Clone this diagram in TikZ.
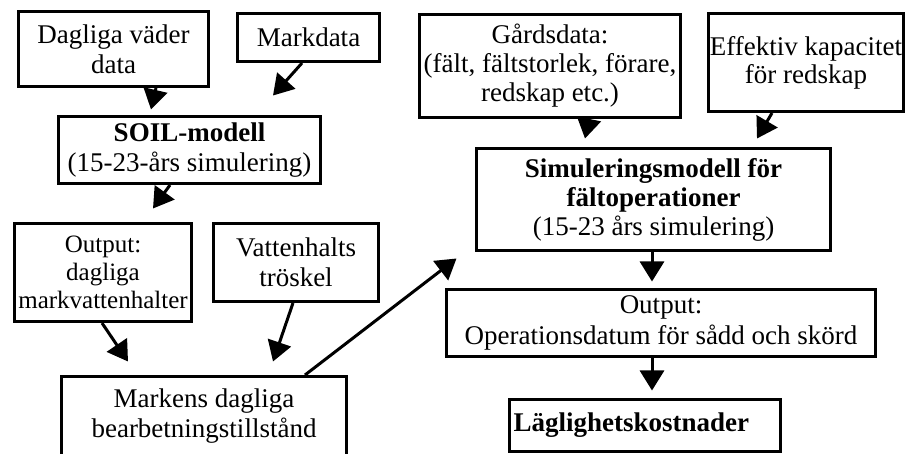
\documentclass[tikz,border=0pt]{standalone}
\usepackage{fontspec}
\setmainfont{Liberation Serif}
\usetikzlibrary{arrows.meta}
\begin{document}
\begin{tikzpicture}[x=1pt,y=-1pt,
  box/.style={draw, line width=3pt, inner sep=0pt, align=center, font=\fontsize{27}{30}\selectfont},
  arr/.style={line width=3pt, -{Triangle[length=20pt,width=24pt]}}]
\useasboundingbox (0,0) rectangle (919,454);
\node[box, minimum width=190pt, minimum height=75pt] (dag) at (113.5,49) {Dagliga väder\\data};
\node[box, minimum width=142pt, minimum height=48pt] (mark) at (308.5,37.5) {Markdata};
\node[box, minimum width=262pt, minimum height=67pt] (soil) at (189.5,150) {\textbf{SOIL-modell}\\(15-23-års simulering)};
\node[box, minimum width=177pt, minimum height=98pt, font=\fontsize{25}{28}\selectfont] (out1) at (103,272.5) {Output:\\dagliga\\markvattenhalter};
\node[box, minimum width=165pt, minimum height=78pt] (vatt) at (296,262.5) {Vattenhalts\\tröskel};
\node[box, minimum width=285pt, minimum height=80pt] (markens) at (204,416.5) {Markens dagliga\\bearbetningstillstånd};
\node[box, minimum width=261pt, minimum height=103pt, font=\fontsize{27}{29}\selectfont] (gard) at (550,66) {Gårdsdata:\\(fält, fältstorlek, förare,\\redskap etc.)};
\node[box, minimum width=195pt, minimum height=98pt, font=\fontsize{27}{28}\selectfont] (eff) at (806,62.5) {Effektiv kapacitet\\för redskap};
\node[box, minimum width=354pt, minimum height=102pt, font=\fontsize{27}{29}\selectfont] (sim) at (653.5,199.5) {\textbf{Simuleringsmodell för}\\\textbf{fältoperationer}\\(15-23 års simulering)};
\node[box, minimum width=429pt, minimum height=67pt, font=\fontsize{27}{31}\selectfont] (out2) at (661,323) {Output:\\Operationsdatum för sådd och skörd};
\node[box, inner xsep=4pt, text width=263pt, align=left, minimum height=52pt] (lag) at (645,425.5) {\textbf{Läglighetskostnader}};
\draw[arr] ([xshift=42.5pt]dag.south) -- ([xshift=-38.5pt,yshift=5.5pt]soil.north);
\draw[arr] ([xshift=-6.5pt]mark.south) -- ([xshift=83.5pt,yshift=19.5pt]soil.north);
\draw[arr] ([xshift=-19.5pt]soil.south) -- ([xshift=50pt,yshift=13.5pt]out1.north);
\draw[arr] ([xshift=-1pt]out1.south) -- ([xshift=-76pt,yshift=13.5pt]markens.north);
\draw[arr] ([xshift=-3pt]vatt.south) -- ([xshift=69pt,yshift=13.5pt]markens.north);
\draw[arr] ([xshift=101pt]markens.north) -- ([xshift=-18.5pt,yshift=-6.5pt]sim.south west);
\draw[arr] ([xshift=39pt]gard.south) -- ([xshift=-68.5pt,yshift=8.5pt]sim.north);
\draw[arr] ([xshift=-34pt]eff.south) -- ([xshift=103.5pt,yshift=8.5pt]sim.north);
\draw[arr] ([xshift=-1.5pt]sim.south) -- ([xshift=-9pt,yshift=6.5pt]out2.north);
\draw[arr] ([xshift=-9pt]out2.south) -- ([xshift=7pt,yshift=7.5pt]lag.north);
\end{tikzpicture}
\end{document}
